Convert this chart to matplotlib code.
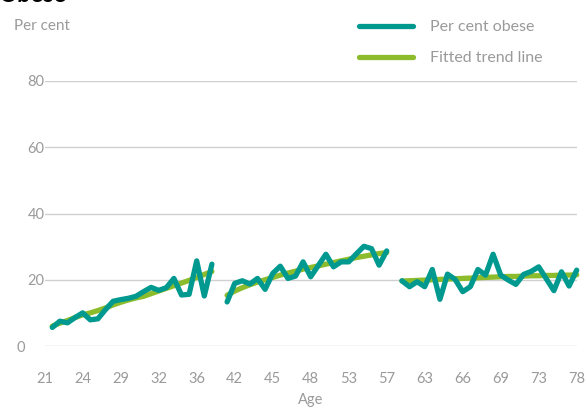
import numpy as np
import matplotlib.pyplot as plt
from matplotlib.transforms import ScaledTranslation

plt.rcParams['font.family'] = ['Lato', 'DejaVu Sans']

# per cent obese, three separate age blocks
obese_a = [5.6, 7.5, 7.0, 8.6, 10.0, 7.9, 8.2, 11.0, 13.5, 14.0, 14.4,
           15.0, 16.4, 17.7, 16.8, 17.6, 20.4, 15.4, 15.6, 25.7, 15.1, 24.7]
obese_b = [13.3, 18.9, 19.7, 18.7, 20.4, 17.1, 21.9, 24.1, 20.4, 21.1, 25.4,
           20.9, 24.3, 27.7, 23.9, 25.4, 25.4, 27.8, 30.1, 29.4, 24.4, 28.7]
obese_c = [19.7, 17.9, 19.4, 17.9, 23.1, 14.1, 21.7, 20.1, 16.4, 17.9, 23.1, 21.4,
           27.7, 21.4, 19.9, 18.6, 21.6, 22.5, 23.9, 20.3, 16.7, 22.4, 18.1, 22.9]

# fitted trend line for each block
trend_a = [6.0, 6.9, 7.7, 8.6, 9.4, 10.0, 10.7, 11.5, 12.4, 13.2, 13.9,
           14.5, 15.0, 15.8, 16.6, 17.4, 18.2, 19.0, 19.8, 20.7, 21.6, 22.5]
trend_b = [15.3, 16.6, 17.6, 18.5, 19.3, 20.0, 20.7, 21.4, 22.0, 22.6, 23.2,
           23.7, 24.2, 24.7, 25.2, 25.7, 26.2, 26.7, 27.1, 27.5, 27.9, 28.2]
trend_c = [19.6, 19.7, 19.8, 19.9, 20.0, 20.1, 20.2, 20.3, 20.4, 20.5, 20.6, 20.7,
           20.8, 20.9, 21.0, 21.0, 21.1, 21.2, 21.2, 21.3, 21.3, 21.4, 21.4, 21.5]

age_labels = ['21', '24', '29', '32', '36', '42', '45', '48', '53', '57',
              '63', '66', '69', '73', '78']
label_step = 5

TEAL = '#00998f'
GREEN = '#8cbb2c'
GREY = '#9a9a9a'


def with_gaps(*blocks):
    # one empty category before each block so the line breaks
    out = []
    for b in blocks:
        out += [np.nan] + list(b)
    return np.array(out, dtype=float)


obese = with_gaps(obese_a, obese_b, obese_c)
trend = with_gaps(trend_a, trend_b, trend_c)
cats = np.arange(len(obese))

fig = plt.figure(figsize=(5.88, 4.09), dpi=100)
ax = fig.add_axes([44.7 / 588, 63 / 409, 532 / 588, 265 / 409])

ax.plot(cats, trend, color=GREEN, lw=3.8, solid_capstyle='round',
        solid_joinstyle='round', label='Fitted trend line', zorder=2,
        clip_on=False)
ax.plot(cats, obese, color=TEAL, lw=3.8, solid_capstyle='round',
        solid_joinstyle='round', label='Per cent obese', zorder=3,
        clip_on=False)

ax.set_xlim(0, len(cats) - 1)
ax.set_ylim(0, 80)
ax.set_yticks([0, 20, 40, 60, 80])
ax.set_xticks(cats[::label_step])
ax.set_xticklabels(age_labels)
ax.grid(axis='y', color='#d0d0d0', lw=1)
ax.set_axisbelow(True)
for s in ax.spines.values():
    s.set_visible(False)
ax.tick_params(axis='both', length=0, labelcolor=GREY, labelsize=10.5)
ax.tick_params(axis='x', pad=19)
ax.tick_params(axis='y', pad=0)

# the zero label sits further left in the original
zero_lab = ax.get_yticklabels()[0]
zero_lab.set_transform(zero_lab.get_transform() +
                       ScaledTranslation(-0.2, 0, fig.dpi_scale_trans))

fig.text(311 / 588, 1 - 400 / 409, 'Age', ha='center', va='center',
         color=GREY, fontsize=10.5)
fig.text(14 / 588, 1 - 26 / 409, 'Per cent', ha='left', va='center',
         color=GREY, fontsize=11)
fig.text(-2 / 588, 1 - 2.5 / 409, 'Obese', ha='left', va='baseline',
         color='black', fontsize=17, fontweight='bold')

h, l = ax.get_legend_handles_labels()
fig.legend(h[::-1], l[::-1], loc='upper left',
           bbox_to_anchor=(359 / 588, 1 - 20 / 409), frameon=False,
           borderaxespad=0, borderpad=0, handlelength=3.4,
           handletextpad=1.05, labelspacing=1.05, fontsize=11.5,
           labelcolor=GREY)

fig.savefig('out.png', dpi=100)
